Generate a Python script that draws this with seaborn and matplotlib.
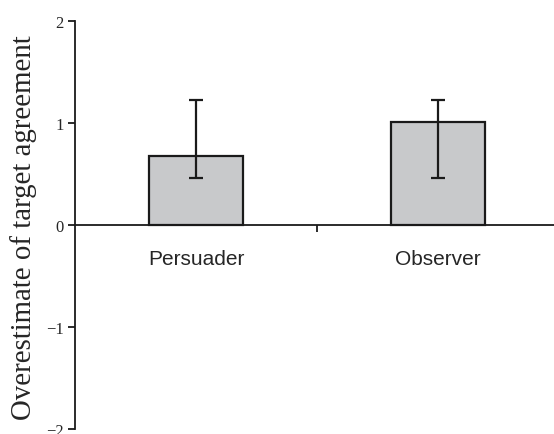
import matplotlib
matplotlib.use("Agg")
import matplotlib.pyplot as plt
import seaborn as sns
import pandas as pd
import numpy as np
from matplotlib.ticker import FixedLocator

categories = ["Persuader", "Observer"]
values = [0.68, 1.01]
err_low = [0.46, 0.46]
err_high = [1.23, 1.23]
yticks = [-2, -1, 0, 1, 2]

sns.set_style("white")
plt.rcParams['font.family'] = ['Liberation Serif', 'DejaVu Serif']

df = pd.DataFrame({"group": categories, "value": values})

fig = plt.figure(figsize=(5.54, 4.35), dpi=100)
ax = fig.add_axes([75/554, 5/435, 1 - 75/554, (430-22)/435])

sns.barplot(data=df, x="group", y="value", color="#c8c9cb", edgecolor="#1a1a1a",
            linewidth=1.6, width=0.39, errorbar=None, ax=ax, saturation=1)

vals = np.array(values)
lo = vals - np.array(err_low)
hi = np.array(err_high) - vals
ax.errorbar(range(len(categories)), vals, yerr=[lo, hi], fmt="none",
            ecolor="#1a1a1a", elinewidth=1.6, capsize=5, capthick=1.6)

ax.set_ylim(-2, 2)
ax.set_xlim(-0.5, 1.48)
ax.set_yticks(yticks)
ax.set_yticklabels(["\u22122", "\u22121", "0", "1", "2"], fontsize=12)
ax.tick_params(axis="y", direction="out", length=5, width=1.3, color="#1a1a1a", pad=3, left=True)

for s in ["top", "right"]:
    ax.spines[s].set_visible(False)
ax.spines["bottom"].set_position(("data", 0))
ax.spines["bottom"].set_linewidth(1.3)
ax.spines["left"].set_linewidth(1.3)
ax.spines["bottom"].set_color("#1a1a1a")
ax.spines["left"].set_color("#1a1a1a")

ax.set_xticks([0, 1])
ax.set_xticklabels(categories, fontsize=15, family=["Liberation Sans", "DejaVu Sans"])
ax.tick_params(axis="x", which="major", length=0, pad=17)
ax.xaxis.set_minor_locator(FixedLocator([0.5]))
ax.tick_params(axis="x", which="minor", bottom=True, direction="out", length=5, width=1.3, color="#1a1a1a")

ax.set_xlabel("")
ax.set_ylabel("Overestimate of target agreement", fontsize=20.8)
ax.yaxis.set_label_coords(-0.079, 0.495)

fig.savefig("out.png", dpi=100)
